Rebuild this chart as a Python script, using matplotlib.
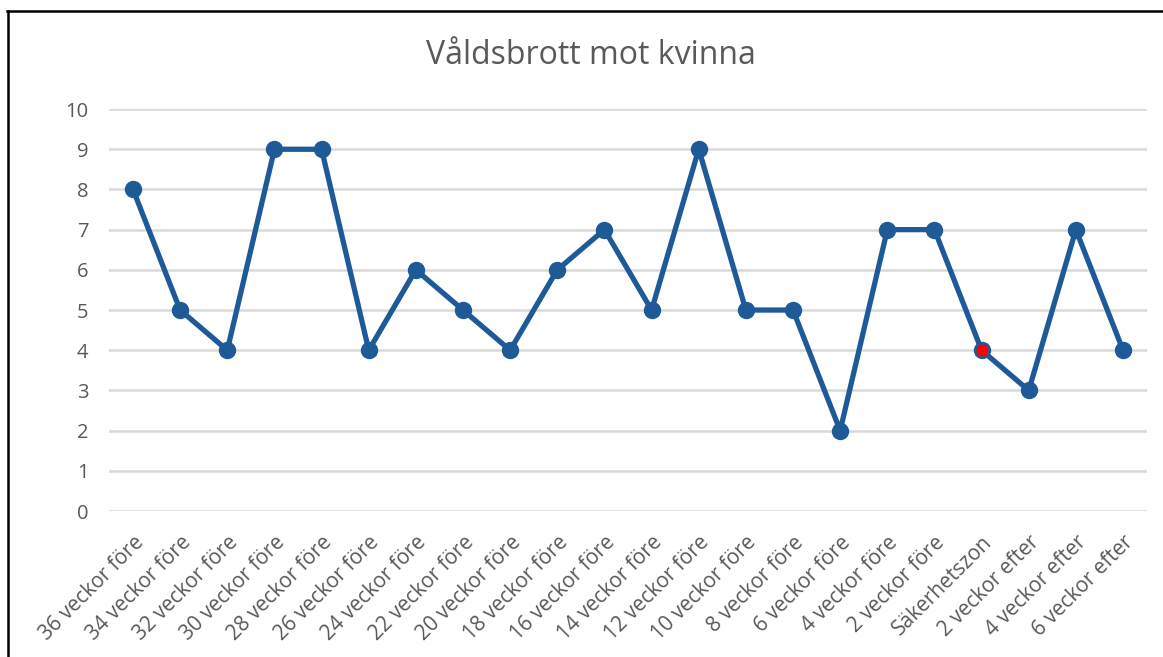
import matplotlib.pyplot as plt
from matplotlib.lines import Line2D

categories = ["36 veckor före", "34 veckor före", "32 veckor före", "30 veckor före",
              "28 veckor före", "26 veckor före", "24 veckor före", "22 veckor före",
              "20 veckor före", "18 veckor före", "16 veckor före", "14 veckor före",
              "12 veckor före", "10 veckor före", "8 veckor före", "6 veckor före",
              "4 veckor före", "2 veckor före", "Säkerhetszon", "2 veckor efter",
              "4 veckor efter", "6 veckor efter"]
values = [8, 5, 4, 9, 9, 4, 6, 5, 4, 6, 7, 5, 9, 5, 5, 2, 7, 7, 4, 3, 7, 4]
highlight = "Säkerhetszon"

blue = '#1F5A98'
grey = '#595959'
plt.rcParams['font.family'] = ['Open Sans', 'DejaVu Sans']

fig = plt.figure(figsize=(11.63, 6.57), dpi=100)
ax = fig.add_axes([0.0941, 0.2222, 0.8918, 0.6118])

x = list(range(len(categories)))
ax.plot(x, values, color=blue, linewidth=3.8, marker='o', markersize=11.5,
        markerfacecolor=blue, markeredgecolor=blue, zorder=3)

# highlight the safety zone point
hi = categories.index(highlight)
ax.plot([hi], [values[hi]], marker='o', markersize=10, markerfacecolor='red',
        markeredgecolor=blue, markeredgewidth=1.3, zorder=4)

ax.set_xlim(-0.5, len(categories) - 0.5)
ax.set_ylim(0, 10)
ax.set_yticks(range(0, 11))
ax.set_xticks(x)
ax.set_xticklabels(categories, rotation=45, ha='right', rotation_mode='anchor')
ax.tick_params(axis='x', length=0, pad=15, labelsize=15, labelcolor=grey)
ax.tick_params(axis='y', length=0, pad=15, labelsize=14.5, labelcolor=grey)
ax.grid(axis='y', color='#D9D9D9', linewidth=1.8)
ax.set_axisbelow(True)
for s in ax.spines.values():
    s.set_visible(False)

fig.text(0.508, 0.916, 'Våldsbrott mot kvinna', ha='center', va='center',
         fontsize=23, color=grey)

# screenshot frame, left and top edges only
fig.add_artist(Line2D([0.006, 1.0], [0.983, 0.983], color='black', linewidth=1.8,
                      transform=fig.transFigure))
fig.add_artist(Line2D([0.007, 0.007], [0.0, 0.983], color='black', linewidth=1.8,
                      transform=fig.transFigure))

fig.savefig('out.png', dpi=100)
